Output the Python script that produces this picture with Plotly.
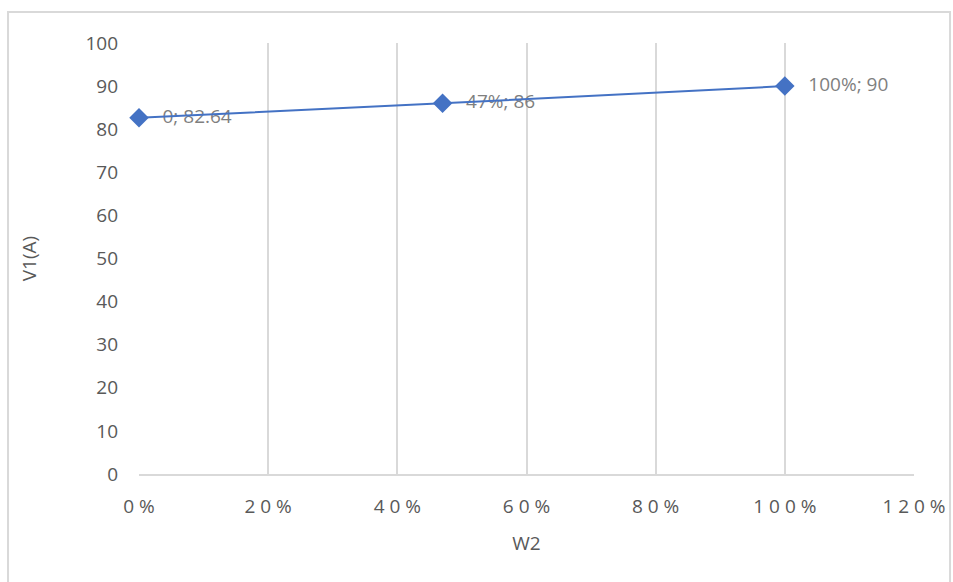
import plotly.graph_objects as go

# Series data
w2 = [0.0, 0.47, 1.0]
v1 = [82.64, 86, 90]
point_labels = ["0; 82.64", "47%; 86", "100%; 90"]

# Axis ticks
x_ticks = [0.0, 0.2, 0.4, 0.6, 0.8, 1.0, 1.2]
x_tick_text = ["0%", "20%", "40%", "60%", "80%", "100%", "120%"]
y_ticks = [0, 10, 20, 30, 40, 50, 60, 70, 80, 90, 100]

LINE_BLUE = "#4472C4"
TICK_GREY = "#595959"
LABEL_GREY = "#7F7F7F"
GRID_GREY = "#D9D9D9"
FONT = "Open Sans, DejaVu Sans, sans-serif"


def spaced(s):
    # widen the character spacing of the percentage tick labels
    return " ".join(s)


fig = go.Figure()

# data labels sit underneath the line; the transparent marker pushes them right
fig.add_trace(go.Scatter(
    x=w2, y=v1, mode="markers+text", text=point_labels,
    textposition="middle right",
    marker=dict(size=36, opacity=0),
    textfont=dict(family=FONT, size=19, color=LABEL_GREY),
    hoverinfo="skip", showlegend=False, cliponaxis=False,
))

fig.add_trace(go.Scatter(
    x=w2, y=v1, mode="lines+markers",
    line=dict(color=LINE_BLUE, width=2),
    marker=dict(symbol="diamond", size=15, color=LINE_BLUE),
    showlegend=False, cliponaxis=False,
))

fig.update_layout(
    width=953, height=582,
    margin=dict(l=139, r=39, t=43, b=108, autoexpand=False),
    paper_bgcolor="white", plot_bgcolor="white",
    font=dict(family=FONT, color=TICK_GREY),
    xaxis=dict(
        range=[0, 1.2], automargin=False,
        tickvals=x_ticks, ticktext=[spaced(t) for t in x_tick_text],
        tickfont=dict(size=19, color=TICK_GREY),
        showgrid=True, gridcolor=GRID_GREY, gridwidth=2,
        showline=True, linecolor=GRID_GREY, linewidth=2,
        zeroline=False, ticks="", ticklabelstandoff=14,
        title=dict(text="W2", font=dict(size=19, color=TICK_GREY), standoff=19),
    ),
    yaxis=dict(
        range=[0, 100], automargin=False,
        tickvals=y_ticks,
        tickfont=dict(size=19, color=TICK_GREY),
        showgrid=False, zeroline=False, showline=False, ticks="",
        ticklabelstandoff=20,
        title=dict(text="V1(A)", font=dict(size=19, color=TICK_GREY), standoff=43),
    ),
    shapes=[dict(
        type="rect", xref="paper", yref="paper",
        x0=-0.169, x1=1.0465, y0=-0.30, y1=1.0719,
        line=dict(color=GRID_GREY, width=2), fillcolor="rgba(0,0,0,0)",
        layer="below",
    )],
)

fig.write_html("out.html")
